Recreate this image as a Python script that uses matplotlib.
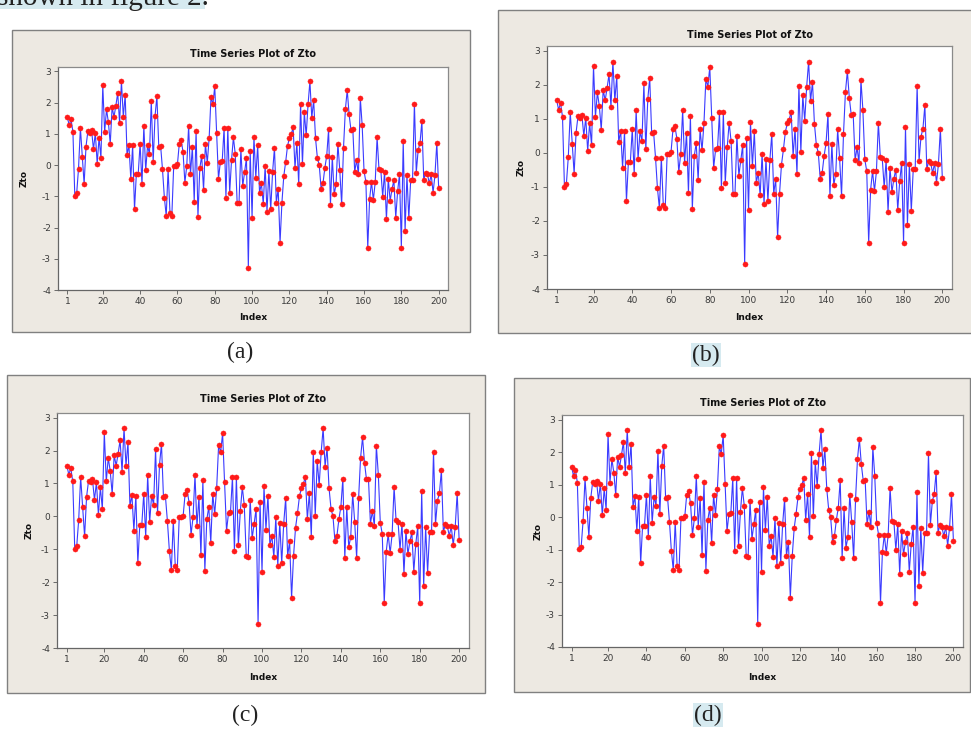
import numpy as np
import matplotlib
matplotlib.use("Agg")
import matplotlib.pyplot as plt
from matplotlib.patches import Rectangle

plt.rcParams["axes.unicode_minus"] = False
plt.rcParams["font.family"] = ["DejaVu Sans"]

# Zto series, values (index 1..200)
zto = [
    1.54, 1.27, 1.46, 1.06, -0.99, -0.91, -0.11, 1.19, 0.27, -0.61,
    0.59, 1.08, 1.03, 1.12, 0.50, 1.03, 0.05, 0.88, 0.22, 2.55,
    1.06, 1.78, 1.37, 0.68, 1.86, 1.54, 1.90, 2.31, 1.35, 2.68,
    1.54, 2.25, 0.31, 0.65, -0.43, 0.63, -1.42, -0.27, -0.27, 0.69,
    -0.62, 1.25, -0.17, 0.63, 0.35, 2.04, 0.10, 1.57, 2.20, 0.59,
    0.61, -0.14, -1.04, -1.63, -0.14, -1.52, -1.63, -0.03, -0.03, 0.02,
    0.69, 0.80, 0.42, -0.56, -0.03, 1.25, -0.30, 0.59, -1.18, 1.09,
    -1.65, -0.09, 0.29, -0.80, 0.69, 0.07, 0.87, 2.18, 1.94, 2.52,
    1.03, -0.44, 0.10, 0.13, 1.19, -1.04, 1.19, -0.88, 0.16, 0.89,
    0.34, -1.20, -1.22, 0.50, -0.67, -0.22, 0.23, -3.28, 0.45, -1.68,
    0.91, -0.40, 0.63, -0.88, -0.59, -1.24, -0.03, -1.50, -0.19, -1.42,
    -0.22, 0.55, -1.20, -0.76, -2.48, -1.20, -0.35, 0.10, 0.61, 0.87,
    0.98, 1.21, -0.09, 0.71, -0.62, 1.97, 0.02, 1.69, 0.95, 1.94,
    2.68, 1.51, 2.08, 0.86, 0.23, 0.00, -0.76, -0.59, -0.09, 0.29,
    1.14, -1.27, 0.27, -0.94, -0.62, 0.69, -0.16, -1.26, 0.55, 1.78,
    2.40, 1.62, 1.12, 1.14, -0.22, 0.16, -0.30, 2.15, 1.27, -0.19,
    -0.54, -2.64, -1.08, -0.54, -1.12, -0.54, 0.89, -0.12, -0.16, -1.01,
    -0.22, -1.74, -0.44, -1.15, -0.76, -0.49, -1.68, -0.84, -0.30, -2.64,
    0.77, -2.11, -0.33, -1.71, -0.48, -0.48, 1.97, -0.24, 0.48, 0.71,
    1.40, -0.48, -0.24, -0.30, -0.59, -0.30, -0.88, -0.33, 0.71, -0.73,
]
index = np.arange(1, len(zto) + 1)

x_ticks = [1, 20, 40, 60, 80, 100, 120, 140, 160, 180, 200]
y_ticks = [-4, -3, -2, -1, 0, 1, 2, 3]
title = "Time Series Plot of Zto"
xlabel = "Index"
ylabel = "Zto"
captions = ["(a)", "(b)", "(c)", "(d)"]
top_text = "shown in figure 2."

W, H = 971, 731
fig = plt.figure(figsize=(W / 100, H / 100), dpi=100)
fig.patch.set_facecolor("white")


def fx(x):
    return x / W


def fy(y):
    return 1 - y / H


# pixel layout per panel: frame box, plot box, title y, ylabel x, xlabel y, caption (x, y, highlighted)
panels = [
    dict(frame=(12, 30, 470, 332), plot=(58, 67, 448, 290), ty=54, lx=24, ly=318, cap=(240, 352, False)),
    dict(frame=(498, 10, 975, 333), plot=(547, 46, 952, 289), ty=35, lx=521, ly=317, cap=(706, 355, True)),
    dict(frame=(7, 375, 485, 693), plot=(57, 413, 469, 648), ty=399, lx=29, ly=677, cap=(245, 715, False)),
    dict(frame=(514, 378, 970, 692), plot=(562, 415, 963, 647), ty=403, lx=538, ly=678, cap=(708, 715, True)),
]

bg = "#ede9e2"

# top line of the page text (cut off at the top edge)
fig.add_artist(Rectangle((0, fy(9)), fx(205), 9 / H, transform=fig.transFigure,
                         facecolor="#d6eaf0", edgecolor="none", zorder=-2))
fig.text(fx(-3), fy(5), top_text, fontsize=21, family="Liberation Serif",
         color="#222222", va="baseline", ha="left")

for i, p in enumerate(panels):
    x0, y0, x1, y1 = p["frame"]
    fig.add_artist(Rectangle((fx(x0), fy(y1)), fx(x1 - x0), (y1 - y0) / H,
                             transform=fig.transFigure, facecolor=bg,
                             edgecolor="#808080", lw=1.0, zorder=-2))
    px0, py0, px1, py1 = p["plot"]
    ax = fig.add_axes([fx(px0), fy(py1), fx(px1 - px0), (py1 - py0) / H])
    ax.set_facecolor("white")
    ax.plot(index, zto, "-", color="#3b3bff", lw=0.8, marker="o", ms=3.7,
            mfc="#ff1a1a", mec="#ff1a1a", mew=0.3, clip_on=False)
    ax.set_xlim(-4, 205)
    ax.set_ylim(-4, 3.14)
    ax.set_xticks(x_ticks)
    ax.set_yticks(y_ticks)
    ax.tick_params(direction="out", length=3, width=0.6, colors="#555555",
                   labelsize=6.5, pad=2, labelcolor="#3a3a3a")
    for side, sp in ax.spines.items():
        sp.set_color("#8a8a8a")
        sp.set_linewidth(0.9)
    ax.spines["left"].set_color("#666666")
    ax.spines["bottom"].set_color("#666666")

    cx = (px0 + px1) / 2
    fig.text(fx(cx), fy(p["ty"]), title, fontsize=7, fontweight="bold",
             ha="center", va="center", color="#111111")
    fig.text(fx(p["lx"]), fy((py0 + py1) / 2), ylabel, fontsize=6.5, fontweight="bold",
             rotation=90, ha="center", va="center", color="#111111")
    fig.text(fx(cx), fy(p["ly"]), xlabel, fontsize=6.5, fontweight="bold",
             ha="center", va="center", color="#111111")

    capx, capy, hl = p["cap"]
    bbox = dict(facecolor="#d6eaf0", edgecolor="none", pad=1.0) if hl else None
    fig.text(fx(capx), fy(capy), captions[i], fontsize=17, family="Liberation Serif",
             ha="center", va="center", color="#222222", bbox=bbox)

fig.savefig("out.png", dpi=100)
